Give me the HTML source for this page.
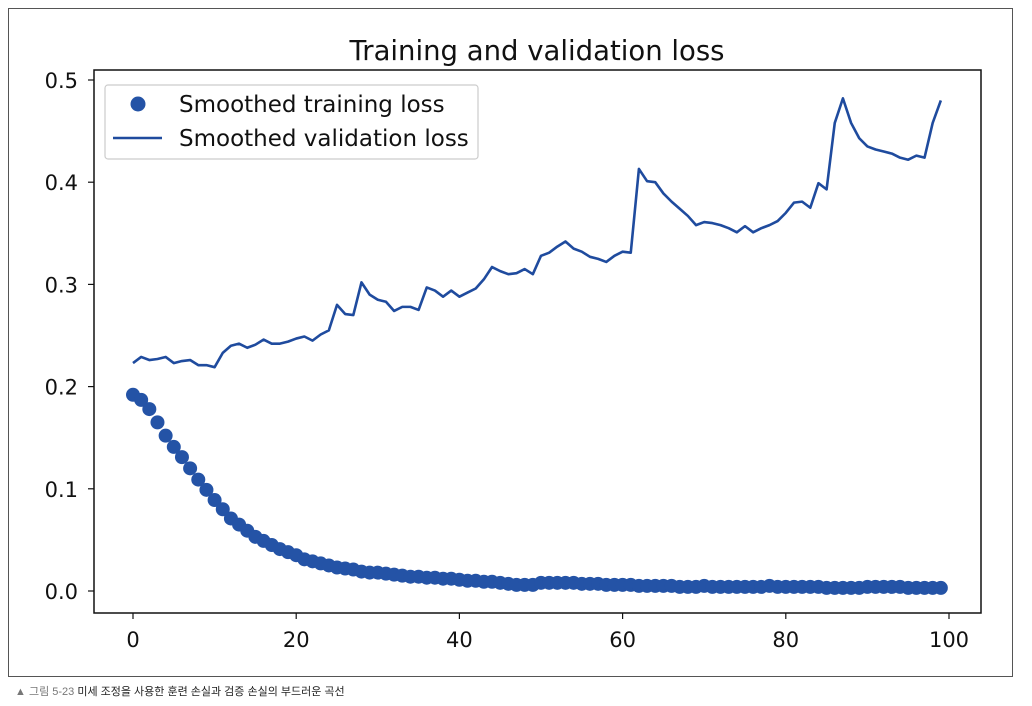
<!DOCTYPE html>
<html><head><meta charset="utf-8">
<style>
body{margin:0;background:#fff;width:1032px;height:706px;overflow:hidden;font-family:"DejaVu Sans","Liberation Sans",sans-serif}
#frame{position:absolute;left:8px;top:8px;width:1005px;height:669px;border:1px solid #555;box-sizing:border-box}
#cap{position:absolute;left:15px;top:683px;font-size:11px;color:#222;font-family:"Liberation Sans","Noto Sans CJK KR",sans-serif}
#cap .g{color:#777}
</style></head><body>
<div id="frame"></div>
<svg id="chart" width="1032" height="706" style="position:absolute;left:0;top:0;font-family:'DejaVu Sans',sans-serif"></svg>
<div id="cap"><span class="g">▲ 그림 5-23</span> 미세 조정을 사용한 훈련 손실과 검증 손실의 부드러운 곡선</div>
<script>
const epochs = Array.from({length:100},(_,i)=>i);
const trainLoss = [0.192,0.187,0.178,0.165,0.152,0.141,0.131,0.120,0.109,0.099,0.089,0.080,0.071,0.065,0.059,0.053,0.049,0.045,0.041,0.038,0.035,0.031,0.029,0.027,0.025,0.023,0.022,0.021,0.019,0.018,0.018,0.017,0.016,0.015,0.014,0.014,0.013,0.013,0.012,0.012,0.011,0.010,0.010,0.009,0.009,0.008,0.007,0.006,0.006,0.006,0.008,0.008,0.008,0.008,0.008,0.007,0.007,0.007,0.006,0.006,0.006,0.006,0.005,0.005,0.005,0.005,0.005,0.004,0.004,0.004,0.005,0.004,0.004,0.004,0.004,0.004,0.004,0.004,0.005,0.004,0.004,0.004,0.004,0.004,0.004,0.003,0.003,0.003,0.003,0.003,0.004,0.004,0.004,0.004,0.004,0.003,0.003,0.003,0.003,0.003];
const valLoss = [0.223,0.229,0.226,0.227,0.229,0.223,0.225,0.226,0.221,0.221,0.219,0.233,0.240,0.242,0.238,0.241,0.246,0.242,0.242,0.244,0.247,0.249,0.245,0.251,0.255,0.280,0.271,0.270,0.302,0.290,0.285,0.283,0.274,0.278,0.278,0.275,0.297,0.294,0.288,0.294,0.288,0.292,0.296,0.305,0.317,0.313,0.310,0.311,0.315,0.310,0.328,0.331,0.337,0.342,0.335,0.332,0.327,0.325,0.322,0.328,0.332,0.331,0.413,0.401,0.400,0.389,0.381,0.374,0.367,0.358,0.361,0.360,0.358,0.355,0.351,0.357,0.351,0.355,0.358,0.362,0.370,0.380,0.381,0.375,0.399,0.393,0.458,0.482,0.458,0.443,0.435,0.432,0.430,0.428,0.424,0.422,0.426,0.424,0.458,0.480];
const xTicks = [0,20,40,60,80,100];
const yTicks = [0.0,0.1,0.2,0.3,0.4,0.5];
const svg=document.getElementById('chart');const NS='http://www.w3.org/2000/svg';
const X=v=>133+v*8.16, Y=v=>591-v*1022;
function mk(t,a,p){const e=document.createElementNS(NS,t);for(const k in a)e.setAttribute(k,a[k]);(p||svg).appendChild(e);return e;}
const ttl=mk('text',{x:537,y:60,'text-anchor':'middle','font-size':27.5,fill:'#111'});ttl.textContent='Training and validation loss';


xTicks.forEach(t=>{const l=mk('line',{x1:X(t),x2:X(t),y1:613,y2:619,stroke:'#111','stroke-width':1.2});


const tx=mk('text',{x:X(t),y:647,'text-anchor':'middle','font-size':21,fill:'#111'});tx.textContent=t;

});
yTicks.forEach(t=>{const l=mk('line',{x1:88,x2:94,y1:Y(t),y2:Y(t),stroke:'#111','stroke-width':1.2});


const tx=mk('text',{x:78,y:Y(t)+8,'text-anchor':'end','font-size':21,fill:'#111'});tx.textContent=t.toFixed(1);

});
const g=mk('g',{});


epochs.forEach((e,i)=>{const c=mk('circle',{cx:X(e),cy:Y(trainLoss[i]),r:7,fill:'#2453a6'},g);

});
const pl=mk('polyline',{points:epochs.map((e,i)=>X(e)+','+Y(valLoss[i])).join(' '),fill:'none',stroke:'#1f4b9e','stroke-width':2.6,'stroke-linejoin':'round'});


const ax=mk('rect',{x:94,y:70,width:887,height:543,fill:'none',stroke:'#111','stroke-width':1.5});


const lg=mk('g',{});


mk('rect',{x:105,y:85,width:373,height:74,rx:3,fill:'#fff',stroke:'#ccc','stroke-width':1.2},lg);
const lc=mk('circle',{cx:138,cy:104,r:7.5,fill:'#2453a6'},lg);


const t1=mk('text',{x:179,y:112,'font-size':23,fill:'#111'},lg);t1.textContent='Smoothed training loss';


const ll=mk('line',{x1:113,x2:162,y1:138,y2:138,stroke:'#1f4b9e','stroke-width':2.6},lg);


const t2=mk('text',{x:179,y:146,'font-size':23,fill:'#111'},lg);t2.textContent='Smoothed validation loss';


</script>
</body></html>
